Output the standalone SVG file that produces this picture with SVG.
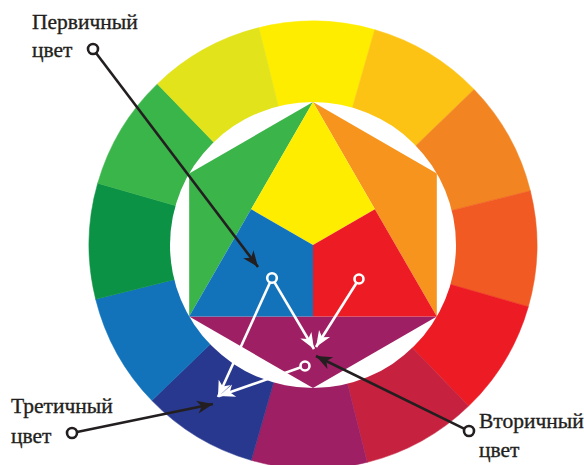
<svg xmlns="http://www.w3.org/2000/svg" width="584" height="465" viewBox="0 0 584 465">
<defs>
<style>
.lbl{font-family:"Liberation Serif","DejaVu Serif",serif;font-size:21.5px;fill:#231F20;stroke:#231F20;stroke-width:0.35}
.bl{stroke:#231F20;stroke-width:2.6;fill:none}
.wl{stroke:#FFFFFF;stroke-width:2.6;fill:none}
.bc{stroke:#231F20;stroke-width:2.6;fill:#FFFFFF}
.wc{stroke:#FFFFFF;stroke-width:2.6;fill:none}
</style>
<marker id="ab" markerUnits="userSpaceOnUse" markerWidth="20" markerHeight="16" viewBox="-16 -8 18 16" refX="0" refY="0" orient="auto">
<path d="M0,0 L-16,-6.5 L-11.5,0 L-16,6.5 Z" fill="#231F20"/>
</marker>
<marker id="aw" markerUnits="userSpaceOnUse" markerWidth="20" markerHeight="16" viewBox="-16 -8 18 16" refX="0" refY="0" orient="auto">
<path d="M0,0 L-16,-6.5 L-11.5,0 L-16,6.5 Z" fill="#FFFFFF"/>
</marker>
</defs>
<rect width="584" height="465" fill="#FFFFFF"/>
<g id="wheel">
<path d="M313,245 L258.81,27.65 A224,224 0 0 1 374.73,29.67 Z" fill="#FFED00" stroke="#FFED00" stroke-width="0.5"/>
<path d="M313,245 L374.73,29.67 A224,224 0 0 1 474.12,89.39 Z" fill="#FDC314" stroke="#FDC314" stroke-width="0.5"/>
<path d="M313,245 L474.12,89.39 A224,224 0 0 1 530.35,190.81 Z" fill="#F28522" stroke="#F28522" stroke-width="0.5"/>
<path d="M313,245 L530.35,190.81 A224,224 0 0 1 528.33,306.73 Z" fill="#F15A22" stroke="#F15A22" stroke-width="0.5"/>
<path d="M313,245 L528.33,306.73 A224,224 0 0 1 468.61,406.12 Z" fill="#ED1C24" stroke="#ED1C24" stroke-width="0.5"/>
<path d="M313,245 L468.61,406.12 A224,224 0 0 1 367.19,462.35 Z" fill="#C6223F" stroke="#C6223F" stroke-width="0.5"/>
<path d="M313,245 L367.19,462.35 A224,224 0 0 1 251.27,460.33 Z" fill="#9E1F63" stroke="#9E1F63" stroke-width="0.5"/>
<path d="M313,245 L251.27,460.33 A224,224 0 0 1 151.88,400.61 Z" fill="#28388F" stroke="#28388F" stroke-width="0.5"/>
<path d="M313,245 L151.88,400.61 A224,224 0 0 1 95.65,299.19 Z" fill="#1273BB" stroke="#1273BB" stroke-width="0.5"/>
<path d="M313,245 L95.65,299.19 A224,224 0 0 1 97.67,183.27 Z" fill="#0C9245" stroke="#0C9245" stroke-width="0.5"/>
<path d="M313,245 L97.67,183.27 A224,224 0 0 1 157.39,83.88 Z" fill="#3AB54A" stroke="#3AB54A" stroke-width="0.5"/>
<path d="M313,245 L157.39,83.88 A224,224 0 0 1 258.81,27.65 Z" fill="#E2E31B" stroke="#E2E31B" stroke-width="0.5"/>
<circle cx="313" cy="245" r="143" fill="#FFFFFF"/>
</g>
<g id="secondary">
<polygon points="313,102 189.16,173.5 189.16,316.5" fill="#3BB54A"/>
<polygon points="313,102 436.84,173.5 436.84,316.5" fill="#F7941D"/>
<polygon points="189.16,316.5 313,388 436.84,316.5" fill="#9E1F63"/>
</g>
<g id="primary">
<polygon points="313,102 251.08,209.25 313,245 374.92,209.25" fill="#FFED00"/>
<polygon points="251.08,209.25 189.16,316.5 313,316.5 313,245" fill="#1273BB"/>
<polygon points="374.92,209.25 313,245 313,316.5 436.84,316.5" fill="#ED1C24"/>
</g>
<g id="connectors">
<line class="bl" x1="96" y1="53" x2="258" y2="267" marker-end="url(#ab)"/>
<line class="bl" x1="77" y1="432" x2="213" y2="404" marker-end="url(#ab)"/>
<line class="bl" x1="464.5" y1="428.8" x2="316" y2="356" marker-end="url(#ab)"/>
<line class="wl" x1="274.5" y1="282.3" x2="314" y2="349" marker-end="url(#aw)"/>
<line class="wl" x1="270" y1="282.5" x2="218" y2="397" marker-end="url(#aw)"/>
<line class="wl" x1="356.3" y1="283.2" x2="316" y2="347" marker-end="url(#aw)"/>
<line class="wl" x1="300.3" y1="367.6" x2="219" y2="396" marker-end="url(#aw)"/>
<circle class="bc" cx="93" cy="49" r="5"/>
<circle class="bc" cx="72" cy="433" r="5"/>
<circle class="bc" cx="469" cy="431" r="5"/>
<circle class="wc" cx="272" cy="278" r="4.8"/>
<circle class="wc" cx="359" cy="279" r="4.5"/>
<circle class="wc" cx="305" cy="366" r="4.5"/>
</g>
<g id="label-primary">
<text class="lbl" x="32" y="29">Первичный</text>
<text class="lbl" x="32" y="57">цвет</text>
</g>
<g id="label-tertiary">
<text class="lbl" x="11" y="413">Третичный</text>
<text class="lbl" x="11" y="443">цвет</text>
</g>
<g id="label-secondary">
<text class="lbl" x="479" y="428">Вторичный</text>
<text class="lbl" x="479" y="457">цвет</text>
</g>
</svg>
